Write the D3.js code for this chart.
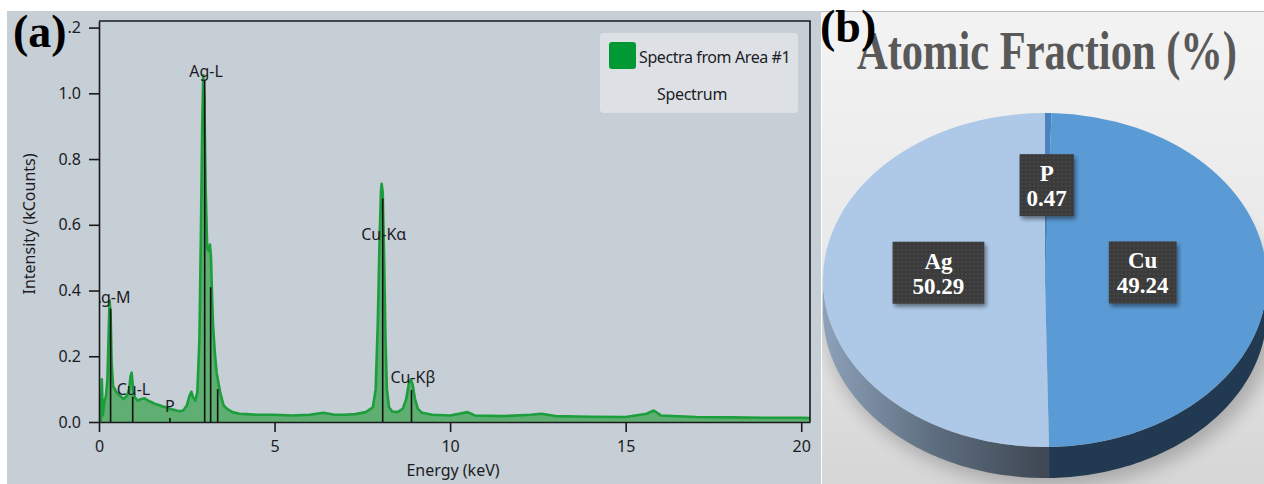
<!DOCTYPE html>
<html><head><meta charset="utf-8">
<script src="https://cdn.jsdelivr.net/npm/d3@7"></script>
<style>html,body{margin:0;padding:0;background:#fff;} svg{display:block}</style>
</head><body>
<svg id="chart" width="1264" height="484"></svg>
<script>
// ---------------- data ----------------
const spectrumEnergy = [0.00,0.05,0.08,0.11,0.15,0.20,0.24,0.27,0.30,0.33,0.36,0.40,0.45,0.50,0.55,0.60,0.65,0.70,0.75,0.80,0.86,0.90,0.93,0.97,1.02,1.10,1.20,1.30,1.40,1.50,1.60,1.70,1.80,1.90,2.00,2.10,2.20,2.30,2.40,2.50,2.58,2.63,2.68,2.74,2.80,2.86,2.90,2.94,2.97,3.00,3.04,3.08,3.12,3.16,3.19,3.22,3.25,3.30,3.35,3.40,3.45,3.55,3.65,3.80,4.00,4.20,4.50,5.00,5.50,6.00,6.40,6.70,7.00,7.30,7.60,7.80,7.88,7.94,7.99,8.03,8.05,8.08,8.12,8.16,8.20,8.26,8.35,8.50,8.65,8.75,8.83,8.88,8.93,9.00,9.08,9.20,9.50,10.00,10.50,10.70,11.50,12.30,12.60,13.00,14.00,15.00,15.60,15.80,16.00,17.00,18.00,19.00,20.00,20.25];
const spectrumCounts = [0.000,0.005,0.130,0.020,0.060,0.080,0.130,0.250,0.370,0.330,0.180,0.110,0.100,0.090,0.085,0.080,0.075,0.070,0.075,0.080,0.100,0.140,0.150,0.100,0.075,0.065,0.070,0.072,0.065,0.060,0.055,0.052,0.048,0.045,0.040,0.038,0.035,0.033,0.035,0.050,0.080,0.092,0.075,0.065,0.090,0.250,0.550,0.900,1.055,0.980,0.700,0.530,0.520,0.540,0.500,0.380,0.290,0.210,0.150,0.120,0.090,0.050,0.040,0.030,0.025,0.024,0.022,0.022,0.020,0.022,0.028,0.022,0.022,0.024,0.030,0.045,0.100,0.300,0.550,0.700,0.725,0.700,0.500,0.250,0.100,0.045,0.032,0.030,0.040,0.070,0.120,0.130,0.115,0.070,0.040,0.028,0.022,0.020,0.030,0.020,0.018,0.022,0.025,0.018,0.016,0.015,0.025,0.035,0.020,0.015,0.014,0.013,0.013,0.012];
const peakNames = ["Ag-M","Cu-L","P","Ag-L","Cu-K\u03b1","Cu-K\u03b2"];
const peakLabelEnergy = [0.33, 0.98, 2.02, 3.05, 8.11, 8.94];
const peakLabelLevel = [0.362, 0.082, 0.030, 1.049, 0.553, 0.119];
const markerEnergy = [0.33, 0.96, 2.02, 3.01, 3.18, 3.38, 8.08, 8.90];
const markerHeight = [0.345, 0.077, 0.012, 1.04, 0.41, 0.10, 0.68, 0.097];
const xTicks = [0, 5, 10, 15, 20];
const yTicks = [0, 0.2, 0.4, 0.6, 0.8, 1.0, 1.2];
const xTitle = "Energy (keV)";
const yTitle = "Intensity (kCounts)";
const legendLabels = ["Spectra from Area #1", "Spectrum"];
const pieElements = ["P", "Cu", "Ag"];
const pieFractions = [0.47, 49.24, 50.29];
const pieTitle = "Atomic Fraction (%)";
const pieColors = ["#4a84c0", "#5b9bd5", "#aec9e8"];

// ---------------- layout ----------------
const svg = d3.select("#chart");
const defs = svg.append("defs");
const bgA = "#c6ced6";
const plot = {l: 99, t: 21, r: 810, b: 422};
const sans = "'Noto Sans', 'Open Sans', sans-serif";
const serif = "'Liberation Serif', 'Times New Roman', serif";

// ===== Panel (a) =====
svg.append("rect").attr("x", 7).attr("y", 11).attr("width", 814).attr("height", 473).attr("fill", bgA);

const x = d3.scaleLinear().domain([0, 20.25]).range([plot.l, plot.r]);
const y = d3.scaleLinear().domain([0, 1.22]).range([plot.b, plot.t]);

defs.append("clipPath").attr("id", "plotClip").append("rect")
  .attr("x", plot.l).attr("y", plot.t).attr("width", plot.r - plot.l).attr("height", plot.b - plot.t);

const gp = svg.append("g").attr("clip-path", "url(#plotClip)");
const spec = spectrumEnergy.map((e, i) => [e, spectrumCounts[i]]);
gp.append("path").datum(spec)
  .attr("d", d3.area().x(d => x(d[0])).y0(y(0)).y1(d => y(d[1])))
  .attr("fill", "#5fae72");
gp.append("path").datum(spec)
  .attr("d", d3.line().x(d => x(d[0])).y(d => y(d[1])))
  .attr("fill", "none").attr("stroke", "#1d9e3d").attr("stroke-width", 2.6).attr("stroke-linejoin", "round");

gp.selectAll("line.marker").data(markerEnergy).join("line")
  .attr("x1", d => x(d)).attr("x2", d => x(d))
  .attr("y1", y(0)).attr("y2", (d, i) => y(markerHeight[i]))
  .attr("stroke", "#111").attr("stroke-width", 1.6);

gp.selectAll("text.peak").data(peakNames).join("text")
  .attr("x", (d, i) => x(peakLabelEnergy[i])).attr("y", (d, i) => y(peakLabelLevel[i]))
  .attr("text-anchor", "middle").attr("font-family", sans).attr("font-size", 16)
  .attr("fill", "#1c1c24").text(d => d);

// axes
const yAxis = d3.axisLeft(y).tickValues(yTicks).tickFormat(d3.format(".1f")).tickSize(10).tickSizeOuter(0).tickPadding(8);
const xAxis = d3.axisBottom(x).tickValues(xTicks).tickFormat(d3.format("d")).tickSize(10).tickSizeOuter(0).tickPadding(9);
const gy = svg.append("g").attr("transform", `translate(${plot.l},0)`).call(yAxis);
const gx = svg.append("g").attr("transform", `translate(0,${plot.b})`).call(xAxis);
[gx, gy].forEach(g => {
  g.select(".domain").attr("stroke", "#1a1a1a").attr("stroke-width", 1.6);
  g.selectAll(".tick line").attr("stroke", "#1a1a1a").attr("stroke-width", 1.6);
  g.selectAll(".tick text").attr("font-family", sans).attr("font-size", 16).attr("fill", "#1c1c24");
});
// frame top & right
svg.append("path")
  .attr("d", `M${plot.l},${plot.t}H${plot.r}V${plot.b}`)
  .attr("fill", "none").attr("stroke", "#1a1a1a").attr("stroke-width", 1.6);

svg.append("text").attr("x", 453).attr("y", 476).attr("text-anchor", "middle")
  .attr("font-family", sans).attr("font-size", 16).attr("fill", "#1c1c24").text(xTitle);
svg.append("text").attr("transform", "translate(35,224) rotate(-90)").attr("text-anchor", "middle")
  .attr("font-family", sans).attr("font-size", 16).attr("fill", "#1c1c24").text(yTitle);

// legend
const lg = svg.append("g");
lg.append("rect").attr("x", 600).attr("y", 33).attr("width", 198).attr("height", 80).attr("rx", 4)
  .attr("fill", "#dde1e6");
lg.append("rect").attr("x", 609).attr("y", 42).attr("width", 27).attr("height", 27).attr("rx", 3)
  .attr("fill", "#009933");
lg.append("text").attr("x", 639).attr("y", 63).attr("font-family", sans).attr("font-size", 16)
  .attr("letter-spacing", -0.4).attr("fill", "#1c1c24").text(legendLabels[0]);
lg.append("text").attr("x", 692).attr("y", 100).attr("text-anchor", "middle").attr("font-family", sans)
  .attr("font-size", 16).attr("letter-spacing", -0.3).attr("fill", "#1c1c24").text(legendLabels[1]);

// (a) label
svg.append("rect").attr("x", 12).attr("y", 15).attr("width", 56).attr("height", 44).attr("fill", bgA);
svg.append("text").attr("x", 13).attr("y", 47).attr("font-family", serif).attr("font-weight", "bold")
  .attr("font-size", 46).attr("fill", "#000").text("(a)");

// ===== Panel (b) =====
const bgGrad = defs.append("linearGradient").attr("id", "bgB").attr("x1", 0).attr("y1", 0).attr("x2", 0).attr("y2", 1);
bgGrad.append("stop").attr("offset", 0).attr("stop-color", "#f3f3f3");
bgGrad.append("stop").attr("offset", 0.55).attr("stop-color", "#e8e8e8");
bgGrad.append("stop").attr("offset", 1).attr("stop-color", "#d6d6d6");
svg.append("rect").attr("x", 822).attr("y", 11).attr("width", 442).attr("height", 473).attr("fill", "url(#bgB)");
svg.append("line").attr("x1", 821).attr("x2", 1264).attr("y1", 11.5).attr("y2", 11.5).attr("stroke", "#b8b8b8");
defs.append("clipPath").attr("id", "clipB").append("rect")
  .attr("x", 822).attr("y", 12).attr("width", 442).attr("height", 472);

const cx = 1045, cy = 280, rx = 222, ry = 167, depth = 31;
const gb = svg.append("g").attr("clip-path", "url(#clipB)");

// shadow
const blur = defs.append("filter").attr("id", "blurSh").attr("x", "-20%").attr("y", "-20%").attr("width", "140%").attr("height", "140%");
blur.append("feGaussianBlur").attr("stdDeviation", 9);
gb.append("ellipse").attr("cx", cx + 6).attr("cy", cy + depth + 6).attr("rx", rx + 4).attr("ry", ry + 2)
  .attr("fill", "#000").attr("opacity", 0.22).attr("filter", "url(#blurSh)");

const pie = d3.pie().sort(null).value(d => d).startAngle(0).endAngle(2 * Math.PI);
const arcsData = pie(pieFractions);

function ellPt(a, dy) { return [cx + rx * Math.sin(a), cy - ry * Math.cos(a) + dy]; }
function sidePath(a0, a1) {
  const s = Math.max(a0, Math.PI / 2), e = Math.min(a1, 3 * Math.PI / 2);
  if (e <= s) return null;
  const n = 80, top = [], bot = [];
  for (let i = 0; i <= n; i++) {
    const a = s + (e - s) * i / n;
    top.push(ellPt(a, 0)); bot.push(ellPt(a, depth));
  }
  return "M" + top.map(p => p.join(",")).join("L") + "L" + bot.reverse().map(p => p.join(",")).join("L") + "Z";
}
const sideAg = defs.append("linearGradient").attr("id", "sideAg").attr("gradientUnits", "userSpaceOnUse")
  .attr("x1", cx - rx).attr("y1", 0).attr("x2", cx).attr("y2", 0);
sideAg.append("stop").attr("offset", 0).attr("stop-color", "#8da1b9");
sideAg.append("stop").attr("offset", 0.5).attr("stop-color", "#5e6e80");
sideAg.append("stop").attr("offset", 1).attr("stop-color", "#3f4854");
const sideFill = {"P": "#2a4a6b", "Cu": "#223a51", "Ag": "url(#sideAg)"};

arcsData.forEach((d, i) => {
  const p = sidePath(d.startAngle, d.endAngle);
  if (p) gb.append("path").attr("d", p).attr("fill", sideFill[pieElements[i]]);
});

const arc = d3.arc().innerRadius(0).outerRadius(rx);
gb.append("g").attr("transform", `translate(${cx},${cy}) scale(1,${ry / rx})`)
  .selectAll("path").data(arcsData).join("path")
  .attr("d", arc).attr("fill", (d, i) => pieColors[i]);

// title
svg.append("text").attr("x", 857).attr("y", 69).attr("font-family", serif).attr("font-weight", "bold")
  .attr("font-size", 54).attr("fill", "#595959").attr("textLength", 380).attr("lengthAdjust", "spacingAndGlyphs")
  .text(pieTitle);
svg.append("text").attr("x", 820).attr("y", 42).attr("font-family", serif).attr("font-weight", "bold")
  .attr("font-size", 46).attr("fill", "#000").text("(b)");

// data labels
const pat = defs.append("pattern").attr("id", "dots").attr("width", 4).attr("height", 4).attr("patternUnits", "userSpaceOnUse");
pat.append("rect").attr("width", 4).attr("height", 4).attr("fill", "#3a3a3a");
pat.append("circle").attr("cx", 2).attr("cy", 2).attr("r", 0.7).attr("fill", "#565656");
const ds = defs.append("filter").attr("id", "dropSh").attr("x", "-30%").attr("y", "-30%").attr("width", "160%").attr("height", "160%");
ds.append("feDropShadow").attr("dx", 2).attr("dy", 3).attr("stdDeviation", 2).attr("flood-color", "#000").attr("flood-opacity", 0.45);

const labelRadius = {P: 0.52, Cu: 0.44, Ag: 0.48};
const labelPad = {P: 7, Cu: 8, Ag: 20};
arcsData.forEach((d, i) => {
  const name = pieElements[i];
  const mid = (d.startAngle + d.endAngle) / 2;
  const k = labelRadius[name];
  const lx = cx + k * rx * Math.sin(mid);
  const ly = cy - k * ry * Math.cos(mid) - 8;
  const g = svg.append("g");
  const box = g.append("rect").attr("fill", "url(#dots)").attr("filter", "url(#dropSh)");
  const t1 = g.append("text").attr("x", lx).attr("y", ly - 4).attr("text-anchor", "middle")
    .attr("font-family", serif).attr("font-weight", "bold").attr("font-size", 23).attr("fill", "#fff").text(name);
  const t2 = g.append("text").attr("x", lx).attr("y", ly + 21).attr("text-anchor", "middle")
    .attr("font-family", serif).attr("font-weight", "bold").attr("font-size", 23).attr("fill", "#fff")
    .text(d3.format(".2f")(pieFractions[i]));
  const w = Math.max(t1.node().getComputedTextLength(), t2.node().getComputedTextLength()) + 2 * labelPad[name];
  box.attr("x", lx - w / 2).attr("y", ly - 31).attr("width", w).attr("height", 62);
});
</script>
</body></html>
